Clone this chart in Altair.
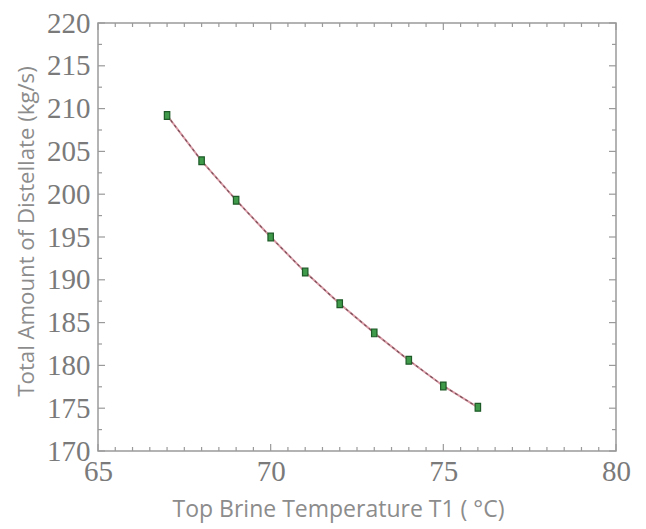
import altair as alt
import pandas as pd

# ---- data ----
t1 = [67, 68, 69, 70, 71, 72, 73, 74, 75, 76]
distillate = [209.2, 203.9, 199.3, 195.0, 190.9, 187.2, 183.8, 180.6, 177.6, 175.1]

x_major = [65, 70, 75, 80]
x_minor = [65.5, 66, 66.5, 67, 67.5, 68, 68.5, 69, 69.5,
           70.5, 71, 71.5, 72, 72.5, 73, 73.5, 74, 74.5,
           75.5, 76, 76.5, 77, 77.5, 78, 78.5, 79, 79.5]
y_major = [170, 175, 180, 185, 190, 195, 200, 205, 210, 215, 220]
y_minor = [172.5, 177.5, 182.5, 187.5, 192.5, 197.5, 202.5, 207.5, 212.5, 217.5]

W, H = 518, 428
AX = "#9a9a9a"
LBL = "#7a7a7a"
TTL = "#8c8c8c"

pts = pd.DataFrame({"T1": t1, "D": distillate})
xmaj = pd.DataFrame({"T1": x_major})
xmin = pd.DataFrame({"T1": x_minor})
ymaj = pd.DataFrame({"D": y_major})
ymin = pd.DataFrame({"D": y_minor})

xscale = alt.Scale(domain=[65, 80], nice=False, zero=False)
yscale = alt.Scale(domain=[170, 220], nice=False, zero=False)

xaxis = alt.Axis(
    values=x_major, format="d", title="Top Brine Temperature T1 ( °C)",
    grid=False, domain=False, ticks=False, labelFont="Liberation Serif",
    labelFontSize=29, labelColor=LBL, labelPadding=6, labelFlush=False,
    titleFont="Open Sans", titleFontSize=23, titleFontWeight="normal",
    titleColor=TTL, titlePadding=12, titleX=240,
)
yaxis = alt.Axis(
    values=y_major, format="d", title="Total Amount of Distellate (kg/s)",
    grid=False, domain=False, ticks=False, labelFont="Liberation Serif",
    labelFontSize=29, labelColor=LBL, labelPadding=8, labelFlush=False,
    titleFont="Open Sans", titleFontSize=22.2, titleFontWeight="normal",
    titleColor=TTL, titlePadding=8, titleY=208,
)

X = alt.X("T1:Q", scale=xscale, axis=xaxis)
Y = alt.Y("D:Q", scale=yscale, axis=yaxis)

line_base = alt.Chart(pts).mark_line(color="#d99aa6", strokeWidth=2).encode(x=X, y=Y)
line_dash = alt.Chart(pts).mark_line(color="#7a5058", strokeWidth=1.2, strokeDash=[3, 3]).encode(x=X, y=Y)
marks = alt.Chart(pts).mark_point(
    shape="M -0.7 -1 L 0.7 -1 L 0.7 1 L -0.7 1 Z", size=60, filled=True,
    fill="#3f9a4a", stroke="#1d5a27", strokeWidth=1.2, opacity=1,
).encode(x=X, y=Y)

def xticks(df, y0, y1):
    return alt.Chart(df).mark_rule(color=AX, strokeWidth=1.2).encode(
        x=X, y=alt.value(y0), y2=alt.value(y1))

def yticks(df, x0, x1):
    return alt.Chart(df).mark_rule(color=AX, strokeWidth=1.2).encode(
        y=Y, x=alt.value(x0), x2=alt.value(x1))

layers = [
    xticks(xmaj, H, H - 7), xticks(xmin, H, H - 4),
    xticks(xmaj, 0, 7), xticks(xmin, 0, 4),
    yticks(ymaj, 0, 7), yticks(ymin, 0, 4),
    yticks(ymaj, W, W - 7), yticks(ymin, W, W - 4),
    line_base, line_dash, marks,
]

chart = alt.layer(*layers).properties(
    width=W, height=H,
    autosize=alt.AutoSizeParams(type="none"),
    padding={"left": 90, "top": 15, "right": 22, "bottom": 78},
    background="white",
).configure_view(stroke=AX, strokeWidth=1.5)

chart.save("out.html", embed_options={"renderer": "svg", "actions": False})
